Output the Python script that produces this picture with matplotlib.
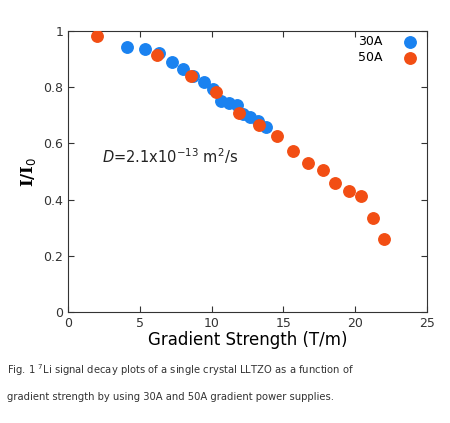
import matplotlib
matplotlib.use("Agg")
import matplotlib.pyplot as plt

x30 = [4.08, 5.36, 6.36, 7.27, 8.03, 8.73, 9.47, 10.12, 10.65, 11.21, 11.75, 12.16, 12.67, 13.25, 13.77]
y30 = [0.942, 0.935, 0.921, 0.891, 0.865, 0.840, 0.820, 0.794, 0.752, 0.743, 0.736, 0.703, 0.694, 0.681, 0.657]
x50 = [2.0, 6.17, 8.54, 10.28, 11.93, 13.28, 14.53, 15.64, 16.71, 17.73, 18.61, 19.57, 20.40, 21.22, 22.01]
y50 = [0.982, 0.915, 0.840, 0.782, 0.707, 0.665, 0.627, 0.573, 0.531, 0.505, 0.459, 0.431, 0.413, 0.333, 0.259]

fig = plt.figure(figsize=(4.5, 4.23), dpi=100)
ax = fig.add_axes([68/450, 1-312/423, (427-68)/450, (312-31)/423])

ax.scatter(x30, y30, s=68, color="#1a82f0", zorder=3, label="30A")
ax.scatter(x50, y50, s=68, color="#f24e14", zorder=3, label="50A")

ax.set_xlim(0, 25)
ax.set_ylim(0, 1)
ax.set_xticks([0, 5, 10, 15, 20, 25])
ax.set_yticks([0, 0.2, 0.4, 0.6, 0.8, 1])
ax.set_yticklabels(["0", "0.2", "0.4", "0.6", "0.8", "1"])
ax.tick_params(direction="in", top=True, right=True, labelsize=9, length=4, colors="#333333")
for s in ax.spines.values():
    s.set_color("#333333")

ax.set_xlabel("Gradient Strength (T/m)", fontsize=12, labelpad=1)
ax.set_ylabel("I/I$_0$", fontsize=12, family="serif", fontweight="bold", labelpad=4)

ax.text(2.35, 0.553, r"$D$=2.1x10$^{-13}$ m$^2$/s", fontsize=10.5, color="#222222", va="center")

ax.legend(loc="upper right", frameon=False, markerfirst=False, fontsize=9,
          handletextpad=1.2, borderpad=0.05, borderaxespad=0.3, labelspacing=0.2)

fig.text(0.015, 0.115, "Fig. 1 $^7$Li signal decay plots of a single crystal LLTZO as a function of",
         fontsize=7.2, color="#333333")
fig.text(0.015, 0.055, "gradient strength by using 30A and 50A gradient power supplies.",
         fontsize=7.2, color="#333333")

fig.savefig("out.png", dpi=100)
